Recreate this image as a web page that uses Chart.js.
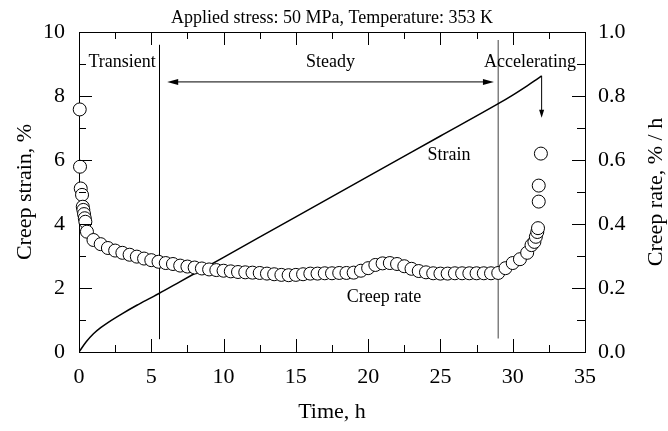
<!DOCTYPE html>
<html lang="en">
<head>
<meta charset="UTF-8" />
<title>Creep curve - 50 MPa, 353 K</title>
<script src="https://cdn.jsdelivr.net/npm/chart.js"></script>
<style>
    html, body { margin: 0; padding: 0; background: #fff; }
</style>
</head>
<body>
<canvas id="chart" width="668" height="431"></canvas>
<script>
    // Creep strain curve (left axis, %)
    const strainTime  = [0, 0.5, 1, 1.5, 2, 3, 4, 5, 5.5, 7, 10, 15, 20, 25, 29, 30, 31, 31.5, 32];
    const strainValue = [0, 0.32, 0.57, 0.76, 0.92, 1.2, 1.46, 1.7, 1.82, 2.2, 2.96, 4.22, 5.49, 6.75, 7.76, 8.03, 8.32, 8.47, 8.63];

    // Creep rate (right axis, % / h)
    const rateTime = [
        0.05, 0.07, 0.12, 0.21, 0.26, 0.3, 0.35, 0.4, 0.44, 0.55, 1.0, 1.5,
        2.0, 2.5, 3.0, 3.5, 4.0, 4.5, 5.0, 5.5, 6.0, 6.5, 7.0, 7.5, 8.0, 8.5, 9.0, 9.5,
        10.0, 10.5, 11.0, 11.5, 12.0, 12.5, 13.0, 13.5, 14.0, 14.5, 15.0, 15.5, 16.0, 16.5,
        17.0, 17.5, 18.0, 18.5, 19.0, 19.5, 20.0, 20.5, 21.0, 21.5, 22.0, 22.5, 23.0, 23.5,
        24.0, 24.5, 25.0, 25.5, 26.0, 26.5, 27.0, 27.5, 28.0, 28.5, 29.0, 29.5, 30.0, 30.5,
        31.0, 31.3, 31.5, 31.6, 31.7, 31.75, 31.8, 31.8, 31.95
    ];
    const rateValue = [
        0.758, 0.579, 0.511, 0.491, 0.454, 0.444, 0.431, 0.418, 0.407, 0.376, 0.35, 0.337,
        0.325, 0.317, 0.31, 0.304, 0.298, 0.292, 0.287, 0.282, 0.278, 0.275, 0.27, 0.267, 0.264, 0.261, 0.258, 0.256,
        0.254, 0.252, 0.25, 0.249, 0.248, 0.247, 0.245, 0.243, 0.241, 0.24, 0.241, 0.243, 0.245, 0.245,
        0.246, 0.246, 0.247, 0.247, 0.248, 0.254, 0.262, 0.272, 0.277, 0.278, 0.275, 0.268, 0.26, 0.253,
        0.249, 0.246, 0.245, 0.245, 0.246, 0.246, 0.246, 0.246, 0.246, 0.246, 0.247, 0.262, 0.278, 0.29,
        0.31, 0.334, 0.344, 0.36, 0.375, 0.387, 0.47, 0.52, 0.62
    ];

    const xTicks = [0, 5, 10, 15, 20, 25, 30, 35];
    const stageBounds = [5.5, 29];
    const stageNames = ['Transient', 'Steady', 'Accelerating'];

    const serif = "'Liberation Serif', 'Times New Roman', serif";
    Chart.defaults.font.family = serif;
    Chart.defaults.color = '#000';

    function pairs(xs, ys) {
        return xs.map((v, i) => ({ x: v, y: ys[i] }));
    }

    function arrowHead(ctx, x, y, dx, dy, len, half) {
        ctx.beginPath();
        ctx.moveTo(x, y);
        ctx.lineTo(x - dx * len - dy * half, y - dy * len + dx * half);
        ctx.lineTo(x - dx * len + dy * half, y - dy * len - dx * half);
        ctx.closePath();
        ctx.fill();
    }

    // Lineas de etapa, marcas de escala y textos
    const overlay = {
        id: 'overlay',
        beforeDatasetsDraw(chart) {
            const { ctx, scales: { x, y } } = chart;
            ctx.save();
            ctx.lineWidth = 1;
            ctx.strokeStyle = '#000';
            ctx.beginPath();
            ctx.moveTo(Math.round(x.getPixelForValue(stageBounds[0])) + 0.5, y.getPixelForValue(9.6));
            ctx.lineTo(Math.round(x.getPixelForValue(stageBounds[0])) + 0.5, y.getPixelForValue(0.4));
            ctx.stroke();
            ctx.strokeStyle = '#808080';
            ctx.lineWidth = 1.5;
            ctx.beginPath();
            ctx.moveTo(x.getPixelForValue(stageBounds[1]), y.getPixelForValue(9.75));
            ctx.lineTo(x.getPixelForValue(stageBounds[1]), y.getPixelForValue(0.42));
            ctx.stroke();
            ctx.restore();
        },
        afterDraw(chart) {
            const { ctx, chartArea: a, scales: { x, y, y1 } } = chart;
            ctx.save();
            ctx.strokeStyle = '#000';
            ctx.fillStyle = '#000';
            ctx.lineWidth = 1;

            // marco superior y derecho
            ctx.beginPath();
            ctx.moveTo(a.left, a.top + 0.5);
            ctx.lineTo(a.right, a.top + 0.5);
            ctx.moveTo(a.right + 0.5, a.top);
            ctx.lineTo(a.right + 0.5, a.bottom);
            ctx.stroke();

            // marcas hacia dentro
            ctx.beginPath();
            for (let v = 0; v <= 35; v += 2.5) {
                const px = Math.round(x.getPixelForValue(v)) + 0.5;
                const len = v % 5 === 0 ? 13 : 7;
                ctx.moveTo(px, a.bottom); ctx.lineTo(px, a.bottom - len);
                ctx.moveTo(px, a.top); ctx.lineTo(px, a.top + len);
            }
            for (let v = 0; v <= 10; v += 1) {
                const py = Math.round(y.getPixelForValue(v)) + 0.5;
                const len = v % 2 === 0 ? 13 : 7;
                ctx.moveTo(a.left, py); ctx.lineTo(a.left + len, py);
            }
            for (let i = 0; i <= 10; i++) {
                const py = Math.round(y1.getPixelForValue(i / 10)) + 0.5;
                const len = i % 2 === 0 ? 13 : 8;
                ctx.moveTo(a.right, py); ctx.lineTo(a.right - len, py);
            }
            ctx.stroke();

            // flecha doble de la etapa estacionaria
            const ay = y.getPixelForValue(8.44);
            const ax0 = x.getPixelForValue(6.1);
            const ax1 = x.getPixelForValue(28.7);
            ctx.beginPath();
            ctx.moveTo(ax0 + 4, ay); ctx.lineTo(ax1 - 4, ay);
            ctx.stroke();
            arrowHead(ctx, ax0, ay, -1, 0, 11, 3);
            arrowHead(ctx, ax1, ay, 1, 0, 11, 3);

            // flecha de la etapa acelerada
            const cx = x.getPixelForValue(32);
            const cy0 = y.getPixelForValue(8.63);
            const cy1 = y.getPixelForValue(7.32);
            ctx.beginPath();
            ctx.moveTo(cx, cy0); ctx.lineTo(cx, cy1 - 4);
            ctx.stroke();
            arrowHead(ctx, cx, cy1, 0, 1, 8, 2.5);

            // textos
            ctx.textAlign = 'center';
            ctx.textBaseline = 'middle';
            ctx.font = '18px ' + serif;
            ctx.fillText(stageNames[0], x.getPixelForValue(2.98), y.getPixelForValue(9.06));
            ctx.fillText(stageNames[1], x.getPixelForValue(17.4), y.getPixelForValue(9.06));
            ctx.fillText(stageNames[2], x.getPixelForValue(31.2), y.getPixelForValue(9.06));
            ctx.fillText('Strain', x.getPixelForValue(25.6), y.getPixelForValue(6.16));
            ctx.fillText('Creep rate', x.getPixelForValue(21.1), y.getPixelForValue(1.72));

            ctx.fillText('Applied stress: 50 MPa, Temperature: 353 K', (a.left + a.right) / 2, 18);

            ctx.font = '22px ' + serif;
            ctx.fillText('Time, h', (a.left + a.right) / 2, 412);

            const my = (a.top + a.bottom) / 2;
            ctx.save();
            ctx.translate(25, my);
            ctx.rotate(-Math.PI / 2);
            ctx.fillText('Creep strain, %', 0, 0);
            ctx.restore();
            ctx.save();
            ctx.translate(656, my);
            ctx.rotate(-Math.PI / 2);
            ctx.fillText('Creep rate, % / h', 0, 0);
            ctx.restore();

            ctx.restore();
        }
    };

    const ctx = document.getElementById('chart').getContext('2d');
    const chart = new Chart(ctx, {
        type: 'scatter',
        data: {
            datasets: [
                {
                    label: 'Creep rate',
                    data: pairs(rateTime, rateValue),
                    yAxisID: 'y1',
                    pointRadius: 6.5,
                    pointBackgroundColor: '#fff',
                    pointBorderColor: '#000',
                    pointBorderWidth: 1,
                    showLine: false,
                    clip: false
                },
                {
                    label: 'Strain',
                    data: pairs(strainTime, strainValue),
                    yAxisID: 'y',
                    showLine: true,
                    borderColor: '#000',
                    borderWidth: 1.5,
                    pointRadius: 0,
                    cubicInterpolationMode: 'monotone'
                }
            ]
        },
        options: {
            responsive: false,
            animation: false,
            events: [],
            layout: { padding: { top: 32, left: 0, right: 0, bottom: 0 } },
            plugins: {
                legend: { display: false },
                tooltip: { enabled: false }
            },
            scales: {
                x: {
                    type: 'linear',
                    min: 0,
                    max: 35,
                    afterFit: s => { s.height = 79; },
                    afterBuildTicks: s => { s.ticks = xTicks.map(v => ({ value: v })); },
                    grid: { display: false, drawTicks: false },
                    border: { display: true, color: '#000', width: 1 },
                    ticks: { font: { size: 22 }, color: '#000', padding: 12, maxRotation: 0 }
                },
                y: {
                    type: 'linear',
                    position: 'left',
                    min: 0,
                    max: 10,
                    afterFit: s => { s.width = 79; },
                    grid: { display: false, drawTicks: false },
                    border: { display: true, color: '#000', width: 1 },
                    ticks: { stepSize: 2, font: { size: 22 }, color: '#000', padding: 14 }
                },
                y1: {
                    type: 'linear',
                    position: 'right',
                    min: 0,
                    max: 1,
                    afterFit: s => { s.width = 83; },
                    grid: { display: false, drawTicks: false },
                    border: { display: false },
                    ticks: {
                        stepSize: 0.2,
                        font: { size: 22 },
                        color: '#000',
                        padding: 13,
                        callback: v => v.toFixed(1)
                    }
                }
            }
        },
        plugins: [overlay]
    });
</script>
</body>
</html>
